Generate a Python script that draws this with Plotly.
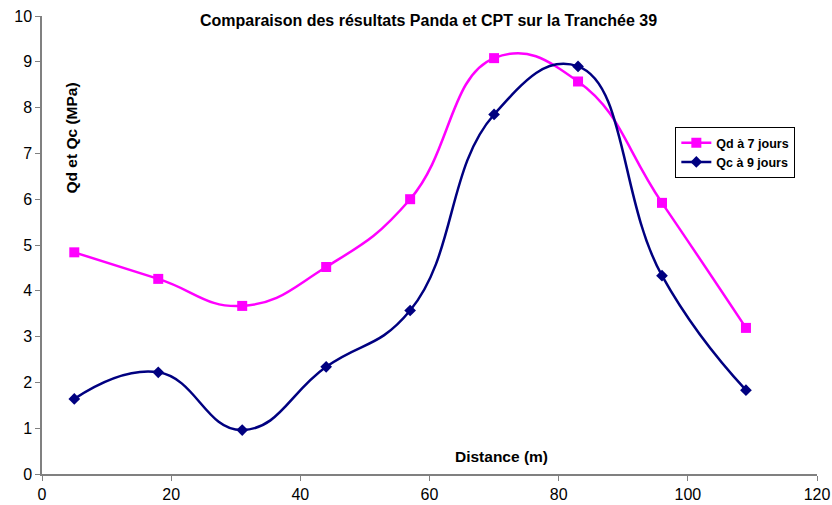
import plotly.graph_objects as go

distance = [5, 18, 31, 44, 57, 70, 83, 96, 109]
qd_7 = [4.84, 4.26, 3.67, 4.52, 6.0, 9.08, 8.57, 5.92, 3.19]
qc_9 = [1.64, 2.22, 0.96, 2.34, 3.57, 7.85, 8.9, 4.33, 1.83]

FONT = "Liberation Sans, Arial, sans-serif"

fig = go.Figure()
fig.add_trace(go.Scatter(
    x=distance, y=qd_7, name="<b>Qd à 7 jours</b>", mode="lines+markers",
    line=dict(color="#FF00FF", width=2.5, shape="spline", smoothing=1.3),
    marker=dict(symbol="square", size=10, color="#FF00FF"),
))
fig.add_trace(go.Scatter(
    x=distance, y=qc_9, name="<b>Qc à 9 jours</b>", mode="lines+markers",
    line=dict(color="#000080", width=2.5, shape="spline", smoothing=1.3),
    marker=dict(symbol="diamond", size=9, color="#000080"),
))

L, R, T, B = 41.5, 832 - 15.3, 16, 474

def px_to_paper(px, py):
    return (px - L) / (R - L), (B - py) / (B - T)

lx, ly = px_to_paper(675, 127)
yt_x, yt_y = px_to_paper(71, 138)
xt_x, xt_y = px_to_paper(501, 456)

fig.update_layout(
    width=832, height=505,
    margin=dict(l=L, r=832 - R, t=T, b=505 - B, autoexpand=False),
    paper_bgcolor="white", plot_bgcolor="white",
    font=dict(family=FONT, size=16, color="black"),
    title=dict(text="<b>Comparaison des résultats Panda et CPT sur la Tranchée 39</b>",
               x=428.5 / 832, xanchor="center", y=1 - 20 / 505, yanchor="middle",
               font=dict(size=16, family=FONT)),
    showlegend=True,
    legend=dict(x=lx, y=ly, xanchor="left", yanchor="top",
                bordercolor="black", borderwidth=1, bgcolor="white",
                font=dict(size=12.5, family=FONT), tracegroupgap=0,
                itemwidth=30),
    xaxis=dict(range=[0, 120], tickvals=[0, 20, 40, 60, 80, 100, 120],
               showgrid=False, zeroline=False, showline=True, linecolor="#808080",
               linewidth=1.5, ticks="outside", ticklen=5, tickcolor="#808080",
               tickfont=dict(size=16), automargin=False),
    yaxis=dict(range=[0, 10], tickvals=list(range(0, 11)),
               showgrid=False, zeroline=False, showline=True, linecolor="#808080",
               linewidth=1.5, ticks="outside", ticklen=5, tickcolor="#808080",
               tickfont=dict(size=16), automargin=False),
    annotations=[
        dict(text="<b>Qd et Qc (MPa)</b>", x=yt_x, y=yt_y, xref="paper", yref="paper",
             xanchor="center", yanchor="middle",
             showarrow=False, textangle=-90, font=dict(size=15.5, family=FONT)),
        dict(text="<b>Distance (m)</b>", x=xt_x, y=xt_y, xref="paper", yref="paper",
             xanchor="center", yanchor="middle",
             showarrow=False, font=dict(size=15.5, family=FONT)),
    ],
)

fig.write_html("out.html", config={"displayModeBar": False},
               post_script="document.body.style.margin='0';document.body.style.padding='0';")
